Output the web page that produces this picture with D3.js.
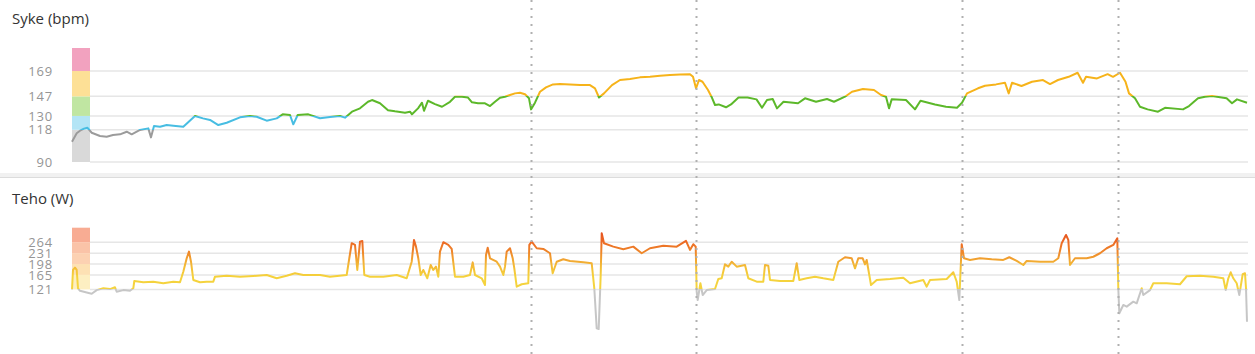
<!DOCTYPE html>
<meta charset="utf-8">
<style>
body { margin: 0; background: #fff; }
text { font-family: "Open Sans", sans-serif; }
.title { font-size: 15px; fill: #333; }
.tick text { font-size: 13px; fill: #959595; letter-spacing: 0.8px; }
.grid line { stroke: #e6e6e6; stroke-width: 1.5px; }
.lap { stroke: #b0b0b0; stroke-width: 2px; stroke-dasharray: 2,6; }
.line { fill: none; stroke-width: 2px; stroke-linejoin: round; }
</style>
<svg width="1255" height="354"></svg>
<script src="https://d3js.org/d3.v7.min.js"></script>
<script>

// time in minutes
var hrData = [
  [0,107.6],[0.47,114.9],[0.8,117.2],[1.2,119],[1.53,119.8],[1.97,115.4],[2.8,112.6],[3.47,112],
  [4.1,113.4],[4.8,114],[5.47,116.3],[5.97,114],[6.8,117.8],[7.63,119.2],[7.9,111.4],[8.2,121.2],
  [8.8,120.6],[9.47,122.1],[10.13,121.5],[11.13,120.6],[12.3,130],[13.1,127.9],[13.8,126.5],[14.63,122.1],
  [15.47,124.1],[16.8,128.8],[17.8,130],[18.47,129.3],[19.47,125.9],[20.47,127.9],[21.07,131.4],[21.8,130.8],
  [22.13,122.7],[22.57,130.8],[23.63,131.4],[24.8,128],[25.8,129],[26.8,130],[27.3,128.5],[28.0,133.7],
  [28.8,136.6],[29.6,142.3],[30.0,143.8],[30.8,141],[31.6,135],[32.3,134],[33.3,132.8],[33.8,133.7],
  [34.0,131.4],[34.6,136.6],[35.0,141.5],[35.2,134.5],[35.6,143.2],[36.3,140.3],[37.0,138],[37.8,142.3],
  [38.3,146.7],[39.0,146.7],[39.6,146],[40.0,141.8],[40.6,141],[41.3,141],[41.8,138.6],[42.3,142.3],
  [42.8,145.8],[43.3,146.7],[43.8,148.2],[44.3,149.6],[44.8,150.2],[45.3,148.8],[45.7,145.3],[45.9,135.7],
  [46.3,141.5],[46.8,151],[47.4,154.8],[48.1,157.4],[48.8,157.7],[49.8,157.4],[50.8,156.8],[51.8,156.8],
  [52.3,154],[52.7,146],[53.2,149.6],[54.0,156.8],[54.8,161.2],[55.8,162],[56.8,163.5],[57.8,164],
  [58.8,164.9],[59.8,165.5],[60.8,166],[61.8,166.3],[62.1,164],[62.4,154],[62.7,161.2],[63.05,159.7],
  [63.6,152.5],[63.95,146.7],[64.3,139.5],[64.67,140],[65.4,137.5],[65.9,140],[66.65,146],[67.55,146],
  [68.45,144.4],[69.0,137.1],[69.5,143.8],[70.07,144.7],[70.5,136.6],[71.15,142.3],[72.6,141],[73.3,145.3],
  [74.4,142.3],[75.5,144.7],[76.2,142.3],[77.3,146.7],[78.0,151],[79.1,153.4],[80.2,152.5],[80.9,148.2],
  [81.4,146.7],[81.7,136.6],[81.97,144.4],[83.4,143.8],[84.3,135.7],[84.85,143.2],[86.3,140],[87.4,138],
  [88.5,137.1],[89.0,141.5],[89.5,149.6],[90.6,154],[91.3,156.2],[92.4,157.4],[93.3,158.8],[93.67,149.6],
  [94.0,158.8],[94.95,156],[96.0,159.7],[97.1,161.2],[97.8,157.7],[98.6,161.2],[99.67,164],[100.56,167.5],
  [101.1,158.8],[101.4,164],[102.5,162.6],[103.56,166.3],[104.1,164],[104.8,167.5],[105.35,159.7],[105.7,149.6],
  [106.3,145.3],[106.8,138],[107.56,135.7],[108.6,133.7],[109.3,137.1],[111.1,135.7],[111.7,138.6],[112.6,145.3],
  [113.3,146.7],[114.0,147.3],[115.46,145.3],[116.0,141],[116.5,144.4],[117.5,141.5]
];

var powerData = [
  [0,121],[0.1,180],[0.3,187],[0.47,180],[0.6,124.5],[0.8,117],[1.47,112],[1.97,108],
  [2.47,119],[3.13,124.5],[3.8,122],[4.3,127.5],[4.47,114],[5.13,119],[5.8,117],[6.13,124.5],
  [6.23,146.6],[7.13,142.7],[8.13,144.6],[9.13,139.7],[10.13,144.6],[10.8,142.7],[11.13,174.8],[11.47,215.4],
  [11.7,235.5],[11.9,205],[12.13,149.7],[12.8,142.7],[13.47,144.6],[14.13,144.6],[14.3,159.7],[15.47,162.7],
  [16.8,159.7],[18.13,161.8],[19.47,164.8],[20.47,154.8],[21.47,162.7],[22.3,170],[23.13,164.8],[24.8,164.8],
  [25.8,159.7],[27.47,164.8],[27.73,215.4],[27.97,261],[28.3,255.8],[28.53,180],[28.8,265.8],[29.03,268],
  [29.23,164.8],[29.8,159.7],[31.13,159.7],[32.47,164.8],[33.47,154.8],[33.97,205],[34.2,271],[34.4,250.6],
  [34.63,215.4],[34.87,164.8],[35.13,180],[35.53,154.8],[35.87,195],[36.13,180],[36.4,190],[36.63,159.7],
  [36.8,235.5],[37.13,264],[37.63,255.8],[37.97,243.6],[38.3,159.7],[39.13,159.7],[39.8,164.8],[40.07,203],
  [40.3,164.8],[40.97,154.8],[41.3,134.5],[41.4,225.5],[41.57,247.6],[41.8,215.4],[42.47,205],[42.8,190],
  [43.13,164.8],[43.3,190],[43.47,235.5],[43.8,245.8],[44.07,215.4],[44.23,185],[44.47,129.4],[44.97,136.7],
  [45.63,139.7],[45.73,255.8],[45.97,265.8],[46.47,245.8],[47.13,243.6],[47.8,230.6],[48.07,170],[48.47,205],
  [49.13,212.4],[49.8,207.3],[51.13,203.3],[51.97,200.3],[52.23,124.5],[52.47,3],[52.67,1],[52.87,164.8],
  [52.97,291],[53.2,261],[54.13,250.6],[55.13,242.7],[56.13,250.6],[56.97,230.6],[57.8,245.8],[59.13,253.6],
  [60.47,250.6],[61.4,268],[61.8,240.6],[62.13,258],[62.37,250.6],[62.47,114],[62.57,89],[62.84,139.7],
  [63.07,104],[63.47,119],[64.3,122.4],[64.63,152.7],[64.97,154.8],[65.3,197],[65.63,190],[65.97,205],
  [66.47,190],[67.3,195],[67.63,154.8],[68.47,144.6],[69.13,144.6],[69.3,195],[69.63,193],[69.8,149.7],
  [70.8,146.7],[72.13,146.7],[72.47,200.3],[72.73,149.7],[73.47,154.8],[74.3,159.7],[75.13,154.8],[76.13,149.7],
  [76.63,205],[77.3,218.5],[77.97,215.4],[78.3,185],[78.63,215.4],[79.07,215.4],[79.3,197],[79.47,210.3],
  [79.9,134.5],[80.47,149.7],[81.8,152.7],[83.13,156.7],[83.8,139.7],[85.13,149.7],[85.47,129.4],[85.8,149.7],
  [87.47,152.7],[88.13,173],[88.47,144.6],[88.73,89],[88.97,258],[89.2,215.4],[89.8,210.3],[90.8,215.4],
  [91.97,212.4],[93.13,210.3],[93.73,218.5],[94.47,207.3],[95.13,195],[95.47,207.3],[96.8,205],[98.13,205],
  [98.63,215.4],[98.97,261],[99.4,286],[99.63,271],[99.8,195],[100.3,215.4],[101.47,215.4],[102.13,220],
  [102.8,230.6],[103.47,245.8],[104.13,255.8],[104.53,276],[104.63,124.5],[104.73,49],[105.13,74],[105.47,69],
  [106.13,84],[106.47,79],[106.97,124.5],[107.13,104],[107.8,119],[108.13,139.7],[109.47,139.7],[110.8,136.7],
  [111.47,161],[112.8,162.7],[114.13,159.7],[115.13,154.8],[115.37,119],[115.63,154.8],[115.87,173],[116.13,154.8],
  [116.47,139.7],[116.73,104],[117.07,167],[117.3,170],[117.4,124.5],[117.5,23]
];

var lapTimes = [45.9, 62.4, 89.0, 104.6];

var hrZones = [90, 118, 130, 147, 169, 189];
var hrZoneColors = ["#d9d9d9", "#b3e5f6", "#c0e6a2", "#fde096", "#f2a2bf"];
var hrLineColors = ["#9b9b9b", "#47bde2", "#5cb82a", "#f6b31a", "#e9699c"];
var hrTicks = [90, 118, 130, 147, 169];

var powerZones = [121, 165, 198, 231, 264, 308];
var powerZoneColors = ["#fdefc2", "#fde1b4", "#fcd1b2", "#fac3a8", "#f8ac93"];
var powerTicks = [121, 165, 198, 231, 264];

var svg = d3.select("svg"),
    xLeft = 72, xRight = 1247, barW = 18, gridRight = 1248;

var x = d3.scaleLinear().domain([0, 117.5]).range([xLeft, xRight]);

var yHr = d3.scaleLinear().domain([90, 189]).range([162, 48]);
var yPow = d3.scaleLinear().domain([0, 308]).range([329.4, 227.7]);

var defs = svg.append("defs");

// separator between the two panels
svg.append("rect").attr("x", 0).attr("y", 173).attr("width", 1255).attr("height", 4).attr("fill", "#f1f1f1");
svg.append("line").attr("x1", 0).attr("x2", 1255).attr("y1", 177.5).attr("y2", 177.5)
    .attr("stroke", "#dcdcdc").attr("stroke-width", 1);

function panel(opts) {
  var g = svg.append("g");

  g.append("text")
      .attr("class", "title")
      .attr("x", 12)
      .attr("y", opts.titleY)
      .text(opts.title);

  // zone bar
  var zonePairs = d3.pairs(opts.zones);
  g.selectAll(".zone")
    .data(zonePairs)
    .enter().append("rect")
      .attr("x", xLeft)
      .attr("width", barW)
      .attr("y", function(d) { return opts.y(d[1]); })
      .attr("height", function(d) { return opts.y(d[0]) - opts.y(d[1]); })
      .attr("fill", function(d, i) { return opts.zoneColors[i]; });

  // grid
  g.append("g")
      .attr("class", "grid")
    .selectAll("line")
    .data(opts.ticks)
    .enter().append("line")
      .attr("x1", xLeft + barW)
      .attr("x2", gridRight)
      .attr("y1", function(d) { return opts.y(d); })
      .attr("y2", function(d) { return opts.y(d); });

  // labels
  var axis = g.append("g")
      .attr("transform", "translate(" + xLeft + ",0)")
      .call(d3.axisLeft(opts.y).tickValues(opts.ticks).tickSize(0).tickPadding(19));
  axis.select(".domain").remove();
  axis.selectAll("text").attr("fill", null).style("font-family", null).style("font-size", null);

  // line coloured through a vertical gradient
  var grad = defs.append("linearGradient")
      .attr("id", opts.id)
      .attr("gradientUnits", "userSpaceOnUse")
      .attr("x1", 0).attr("x2", 0)
      .attr("y1", opts.y.range()[0])
      .attr("y2", opts.y.range()[1]);
  var d0 = opts.y.domain()[0], d1 = opts.y.domain()[1];
  grad.selectAll("stop")
    .data(opts.stops)
    .enter().append("stop")
      .attr("offset", function(d) { return (d[0] - d0) / (d1 - d0); })
      .attr("stop-color", function(d) { return d[1]; });

  var line = d3.line()
      .x(function(d) { return x(d[0]); })
      .y(function(d) { return opts.y(d[1]); });

  g.append("path")
      .datum(opts.data)
      .attr("class", "line")
      .attr("stroke", "url(#" + opts.id + ")")
      .attr("d", line);
}

// hard colour steps for heart rate zones
var hrStops = [];
hrLineColors.forEach(function(c, i) {
  hrStops.push([hrZones[i], c]);
  hrStops.push([hrZones[i + 1], c]);
});

panel({
  id: "hrGrad", title: "Syke (bpm)", titleY: 24,
  y: yHr, zones: hrZones, zoneColors: hrZoneColors, ticks: hrTicks,
  data: hrData, stops: hrStops
});

panel({
  id: "powGrad", title: "Teho (W)", titleY: 204,
  y: yPow, zones: powerZones, zoneColors: powerZoneColors, ticks: powerTicks,
  data: powerData,
  stops: [[0, "#c6c6c6"], [121, "#c6c6c6"], [121, "#f4d33f"], [160, "#f5d23c"],
          [198, "#f3b534"], [231, "#ef8a2b"], [264, "#ec6a24"], [308, "#e2461c"]]
});

// lap markers
svg.selectAll(".lap")
  .data(lapTimes)
  .enter().append("line")
    .attr("class", "lap")
    .attr("x1", function(d) { return Math.round(x(d)) + 0.5; })
    .attr("x2", function(d) { return Math.round(x(d)) + 0.5; })
    .attr("y1", 0)
    .attr("y2", 354);

</script>
